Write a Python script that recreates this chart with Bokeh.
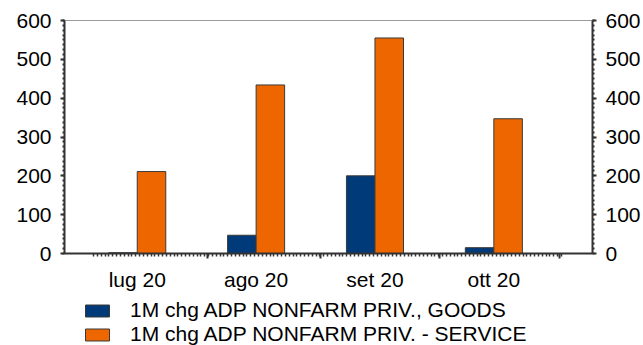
from bokeh.plotting import figure
from bokeh.models import (ColumnDataSource, LinearAxis, FixedTicker, SingleIntervalTicker,
                          Legend, LegendItem, Range1d)
from bokeh.layouts import column
from bokeh.transform import dodge
from bokeh.embed import file_html
from bokeh.resources import INLINE
import numpy as np

# ---- data ----
months = ["lug 20", "ago 20", "set 20", "ott 20"]
goods = [2, 47, 200, 15]
services = [211, 434, 555, 347]
series_names = ["1M chg ADP NONFARM PRIV., GOODS", "1M chg ADP NONFARM PRIV. - SERVICE"]

idx = list(range(len(months)))
src = ColumnDataSource(dict(idx=idx, goods=goods, services=services))

FONT = "Liberation Sans"
FS = "21px"
TXT = "#000000"
AX = "#333333"
BLUE = "#003A78"
ORANGE = "#EE6600"
EDGE = "#3a3a3a"

p = figure(frame_width=528, frame_height=233, output_backend="svg", toolbar_location=None,
           x_range=Range1d(-0.612, 3.830), y_range=Range1d(0, 600),
           x_axis_location=None, y_axis_location=None,
           min_border_left=64, min_border_right=51, min_border_top=20, min_border_bottom=42)
p.outline_line_color = "#9a9a9a"
p.outline_line_width = 1
p.background_fill_color = "white"
p.border_fill_color = "white"

bw = 0.24
r1 = p.vbar(x=dodge("idx", -bw / 2), top="goods", width=bw, source=src,
            fill_color=BLUE, line_color=EDGE, line_width=1)
r2 = p.vbar(x=dodge("idx", bw / 2), top="services", width=bw, source=src,
            fill_color=ORANGE, line_color=EDGE, line_width=1)

# y axes (left and right)
for loc in ("left", "right"):
    ax = LinearAxis(ticker=SingleIntervalTicker(interval=100, num_minor_ticks=8))
    ax.axis_line_color = AX
    ax.axis_line_width = 2
    ax.major_tick_line_color = AX
    ax.major_tick_line_width = 2
    ax.minor_tick_line_color = AX
    ax.minor_tick_line_width = 2
    ax.major_tick_in = 0
    ax.major_tick_out = 4
    ax.minor_tick_in = 0
    ax.minor_tick_out = 2
    ax.major_label_standoff = 9
    ax.major_label_text_font = FONT
    ax.major_label_text_font_size = FS
    ax.major_label_text_color = TXT
    p.add_layout(ax, loc)

# x axis with boundary ticks (no labels)
major_pos = [0.589, 1.543, 2.539, 3.549]
minor_pos = [float(v) for v in np.arange(-0.367, 3.60, 1 / 31)]
xa = LinearAxis(ticker=FixedTicker(ticks=major_pos, minor_ticks=minor_pos))
xa.axis_line_color = AX
xa.axis_line_width = 2
xa.major_tick_line_color = AX
xa.major_tick_line_width = 2
xa.minor_tick_line_color = AX
xa.minor_tick_line_width = 1.5
xa.major_tick_in = 0
xa.major_tick_out = 5
xa.minor_tick_in = 0
xa.minor_tick_out = 3
xa.major_label_text_font_size = "0px"
xa.major_label_text_color = None
xa.major_label_standoff = 0
p.add_layout(xa, "below")

# x axis with category labels
xl = LinearAxis(ticker=FixedTicker(ticks=idx, minor_ticks=[]))
xl.major_label_overrides = {i: m for i, m in zip(idx, months)}
xl.axis_line_color = None
xl.major_tick_line_color = None
xl.minor_tick_line_color = None
xl.major_tick_out = 0
xl.major_tick_in = 0
xl.major_label_standoff = 9
xl.major_label_text_font = FONT
xl.major_label_text_font_size = FS
xl.major_label_text_color = TXT
p.add_layout(xl, "below")

p.xgrid.visible = False
p.ygrid.visible = False

# ---- legend strip below the chart ----
lg = figure(width=643, height=52, output_backend="svg", toolbar_location=None,
            x_range=Range1d(0, 1), y_range=Range1d(0, 1),
            x_axis_location=None, y_axis_location=None,
            min_border=0)
lg.outline_line_color = None
lg.grid.visible = False
lg.background_fill_color = "white"
lg.border_fill_color = "white"
# off-screen proxies used only to draw the legend swatches
proxy = ColumnDataSource(dict(x=[-10], top=[0]))
d1 = lg.vbar(x="x", top="top", width=1, source=proxy, fill_color=BLUE, line_color=EDGE, line_width=1)
d2 = lg.vbar(x="x", top="top", width=1, source=proxy, fill_color=ORANGE, line_color=EDGE, line_width=1)

legend = Legend(items=[LegendItem(label=series_names[0], renderers=[d1]),
                       LegendItem(label=series_names[1], renderers=[d2])],
                location=(18, 1), orientation="vertical")
legend.label_text_font = FONT
legend.label_text_font_size = "21px"
legend.label_text_color = TXT
legend.glyph_width = 30
legend.glyph_height = 15
legend.label_height = 23
legend.label_standoff = 18
legend.spacing = 0
legend.padding = 0
legend.margin = 0
legend.border_line_color = None
legend.background_fill_alpha = 0
lg.add_layout(legend, "center")

layout = column(p, lg, spacing=0)
open("out.html", "w").write(file_html(layout, INLINE))
